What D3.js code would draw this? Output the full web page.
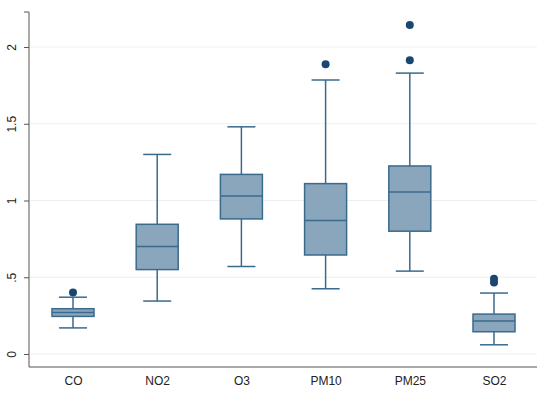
<!DOCTYPE html>
<html>
<head>
<meta charset="utf-8">
<script src="https://cdn.jsdelivr.net/npm/d3@7"></script>
<style>
  body { margin: 0; background: #fff; }
  svg { display: block; font-family: "Liberation Sans", Arial, sans-serif; }
</style>
</head>
<body>
<svg id="chart"></svg>
<script>
// values
var pollutants = ["CO", "NO2", "O3", "PM10", "PM25", "SO2"];
var lowWhisker = [0.17, 0.345, 0.57, 0.425, 0.54, 0.06];
var q1 = [0.245, 0.55, 0.88, 0.645, 0.80, 0.145];
var medians = [0.27, 0.70, 1.03, 0.87, 1.055, 0.215];
var q3 = [0.295, 0.845, 1.17, 1.11, 1.225, 0.26];
var highWhisker = [0.37, 1.30, 1.48, 1.785, 1.83, 0.397];
var outliers = [[0.40], [], [], [1.887], [1.913, 2.143], [0.465, 0.49]];
var yTicks = [0, 0.5, 1, 1.5, 2];
var yTickLabels = ["0", ".5", "1", "1.5", "2"];

var width = 550, height = 397;
var margin = {top: 12, right: 13, bottom: 30, left: 29};

var boxes = pollutants.map((p, i) => ({
  name: p,
  lo: lowWhisker[i], q1: q1[i], med: medians[i], q3: q3[i], hi: highWhisker[i],
  out: outliers[i]
}));

var x = d3.scalePoint()
  .domain(pollutants)
  .range([margin.left + 44, width - margin.right - 43]);

var y = d3.scaleLinear()
  .domain([0, 2])
  .range([354, 47]);

var boxW = 42, capW = 28;
var stroke = "#3a6a8c", fill = "#8aa6bd", dotCol = "#1a476f";

const svg = d3.select("#chart")
  .attr("width", width)
  .attr("height", height)
  .attr("viewBox", [0, 0, width, height]);

// grid lines
svg.append("g")
  .selectAll("line")
  .data(yTicks)
  .join("line")
  .attr("x1", margin.left + 1)
  .attr("x2", width - margin.right)
  .attr("y1", d => y(d))
  .attr("y2", d => y(d))
  .attr("stroke", "#eaf1f3")
  .attr("stroke-width", 1.2);

// axes
var yAxis = d3.axisLeft(y)
  .tickValues(yTicks)
  .tickFormat((d, i) => yTickLabels[i])
  .tickSize(5)
  .tickPadding(6);

svg.append("g")
  .attr("transform", `translate(${margin.left},0)`)
  .call(yAxis)
  .call(g => g.select(".domain").attr("d", `M-5,${margin.top}H0V${height - margin.bottom}`).attr("stroke", "#555"))
  .call(g => g.selectAll(".tick line").attr("stroke", "#555"))
  .call(g => g.selectAll(".tick text")
    .attr("font-size", "12px")
    .attr("fill", "#222")
    .attr("text-anchor", "middle")
    .attr("dy", null)
    .attr("x", null)
    .attr("transform", "translate(-16,0) rotate(-90)")
    .attr("dominant-baseline", "middle"));

svg.append("g")
  .attr("transform", `translate(0,${height - margin.bottom})`)
  .call(d3.axisBottom(x).tickSize(0).tickPadding(9))
  .call(g => g.select(".domain").attr("d", `M${margin.left},0H${width - margin.right}`).attr("stroke", "#555"))
  .call(g => g.selectAll(".tick text").attr("font-size", "12px").attr("fill", "#222"));

// box plots
const bg = svg.append("g")
  .selectAll("g")
  .data(boxes)
  .join("g")
  .attr("transform", d => `translate(${x(d.name)},0)`);

bg.append("line")
  .attr("y1", d => y(d.lo))
  .attr("y2", d => y(d.q1))
  .attr("stroke", stroke).attr("stroke-width", 1.5);

bg.append("line")
  .attr("y1", d => y(d.q3))
  .attr("y2", d => y(d.hi))
  .attr("stroke", stroke).attr("stroke-width", 1.5);

bg.selectAll(".cap")
  .data(d => [d.lo, d.hi])
  .join("line")
  .attr("class", "cap")
  .attr("x1", -capW / 2).attr("x2", capW / 2)
  .attr("y1", d => y(d)).attr("y2", d => y(d))
  .attr("stroke", stroke).attr("stroke-width", 1.5);

bg.append("rect")
  .attr("x", -boxW / 2)
  .attr("width", boxW)
  .attr("y", d => y(d.q3))
  .attr("height", d => y(d.q1) - y(d.q3))
  .attr("fill", fill)
  .attr("stroke", stroke)
  .attr("stroke-width", 1.5);

bg.append("line")
  .attr("x1", -boxW / 2).attr("x2", boxW / 2)
  .attr("y1", d => y(d.med)).attr("y2", d => y(d.med))
  .attr("stroke", stroke).attr("stroke-width", 1.5);

bg.selectAll("circle")
  .data(d => d.out)
  .join("circle")
  .attr("cy", d => y(d))
  .attr("r", 4)
  .attr("fill", dotCol);
</script>
</body>
</html>
